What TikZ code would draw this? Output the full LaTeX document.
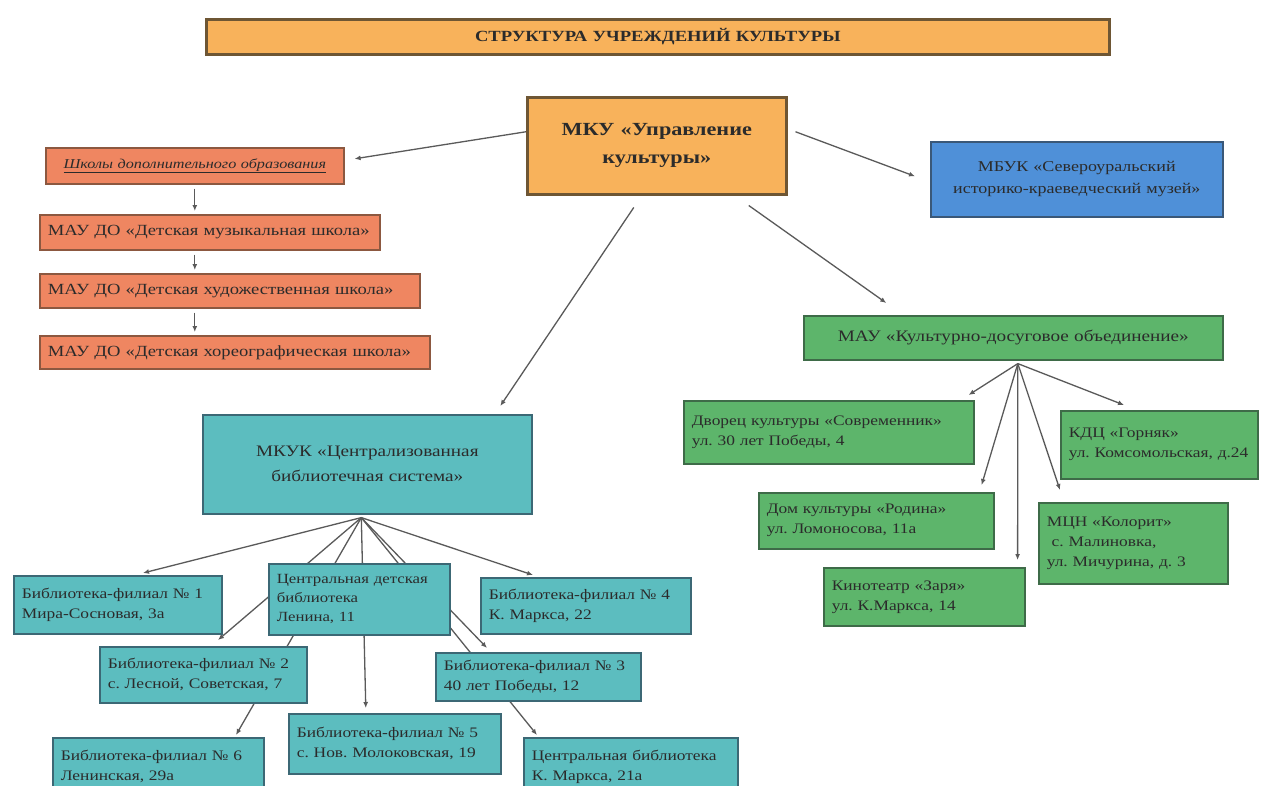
\documentclass[tikz,border=0pt]{standalone}
\usepackage{fontspec}
\setmainfont{Liberation Serif}[FakeStretch=1.2]
\usetikzlibrary{arrows.meta,backgrounds}
\definecolor{orng}{HTML}{F8B25B}
\definecolor{brn}{HTML}{6E5634}
\definecolor{salm}{HTML}{EF8661}
\definecolor{salmb}{HTML}{8C5840}
\definecolor{blu}{HTML}{4F90D8}
\definecolor{blub}{HTML}{3A5878}
\definecolor{grn}{HTML}{5DB56B}
\definecolor{grnb}{HTML}{3E6B48}
\definecolor{tea}{HTML}{5CBDBF}
\definecolor{teab}{HTML}{3C6875}
\definecolor{txt}{HTML}{2B2B2B}
\definecolor{ln}{HTML}{5A5A5A}
\frenchspacing
\begin{document}
\begin{tikzpicture}[x=1pt,y=-1pt,
  box/.style={draw, line width=1.6pt, anchor=north west, inner xsep=8pt, inner ysep=2pt, text=txt,
     font=\fontsize{14.5}{20}\selectfont},
  salbox/.style={box, fill=salm, draw=salmb, font=\fontsize{15.5}{20}\selectfont},
  grnbox/.style={box, fill=grn, draw=grnb, align=left},
  teabox/.style={box, fill=tea, draw=teab, align=left},
  arr/.style={draw=ln, line width=1.3pt, -{Latex[length=6pt,width=5pt]}}
]
\useasboundingbox (0,0) rectangle (1271,785);

% title and top
\node[box, fill=orng, draw=brn, line width=2.5pt, minimum width=903pt, minimum height=35pt, text width=887pt, align=center,
  font=\bfseries\fontsize{15.5}{18}\selectfont] (title) at (205,18) {СТРУКТУРА УЧРЕЖДЕНИЙ КУЛЬТУРЫ};
\node[box, fill=orng, draw=brn, line width=2.5pt, minimum width=259pt, minimum height=97pt, text width=243pt, align=center,
  font=\bfseries\fontsize{18.5}{28}\selectfont] (mku) at (526,96) {МКУ «Управление\\культуры»};

% schools
\node[salbox, minimum width=298pt, minimum height=36pt, text width=282pt, align=center,
  font=\itshape\fontsize{13.5}{18}\selectfont] (school) at (45,147)
  {\underline{Школы дополнительного образования}};
\node[salbox, minimum width=340pt, minimum height=35pt, text width=324pt, align=left] (music) at (39,214)
  {МАУ ДО «Детская музыкальная школа»};
\node[salbox, minimum width=380pt, minimum height=34pt, text width=364pt, align=left] (art) at (39,273)
  {МАУ ДО «Детская художественная школа»};
\node[salbox, minimum width=390pt, minimum height=33pt, text width=374pt, align=left] (chor) at (39,335)
  {МАУ ДО «Детская хореографическая школа»};

% museum
\node[box, fill=blu, draw=blub, minimum width=292pt, minimum height=75pt, text width=276pt, align=center,
  font=\fontsize{15}{22}\selectfont] (museum) at (930,141)
  {МБУК «Североуральский\\историко-краеведческий музей»};

% culture centres
\node[grnbox, minimum width=419pt, minimum height=44pt, text width=403pt, align=center,
  font=\fontsize{16}{20}\selectfont] (kdo) at (803,315)
  {МАУ «Культурно-досуговое объединение»};
\node[grnbox, minimum width=290pt, minimum height=63pt, text width=274pt] (sovr) at (683,400)
  {Дворец культуры «Современник»\\ул. 30 лет Победы, 4};
\node[grnbox, minimum width=197pt, minimum height=68pt, text width=181pt] (kdc) at (1060,410)
  {КДЦ «Горняк»\\ул. Комсомольская, д.24};
\node[grnbox, minimum width=235pt, minimum height=56pt, text width=219pt] (rodina) at (758,492)
  {Дом культуры «Родина»\\ул. Ломоносова, 11а};
\node[grnbox, minimum width=189pt, minimum height=81pt, text width=173pt] (mcn) at (1038,502)
  {МЦН «Колорит»\\\ с. Малиновка,\\ул. Мичурина, д. 3};
\node[grnbox, minimum width=201pt, minimum height=58pt, text width=185pt] (kino) at (823,567)
  {Кинотеатр «Заря»\\ул. К.Маркса, 14};

% libraries
\node[teabox, minimum width=329pt, minimum height=99pt, text width=313pt, align=center,
  font=\fontsize{16}{25}\selectfont] (cbs) at (202,414)
  {МКУК «Централизованная\\библиотечная система»};
\node[teabox, minimum width=208pt, minimum height=58pt, text width=192pt] (f1) at (13,575)
  {Библиотека-филиал № 1\\Мира-Сосновая, 3а};
\node[teabox, minimum width=181pt, minimum height=71pt, text width=165pt, font=\fontsize{14}{19}\selectfont] (cdb) at (268,563)
  {Центральная детская\\библиотека\\Ленина, 11};
\node[teabox, minimum width=210pt, minimum height=56pt, text width=194pt] (f4) at (480,577)
  {Библиотека-филиал № 4\\К. Маркса, 22};
\node[teabox, minimum width=207pt, minimum height=56pt, text width=191pt] (f2) at (99,646)
  {Библиотека-филиал № 2\\с. Лесной, Советская, 7};
\node[teabox, minimum width=205pt, minimum height=48pt, text width=189pt] (f3) at (435,652)
  {Библиотека-филиал № 3\\40 лет Победы, 12};
\node[teabox, minimum width=211pt, minimum height=58pt, text width=195pt] (f6) at (52,737)
  {Библиотека-филиал № 6\\Ленинская, 29а};
\node[teabox, minimum width=212pt, minimum height=60pt, text width=196pt] (f5) at (288,713)
  {Библиотека-филиал № 5\\с. Нов. Молоковская, 19};
\node[teabox, minimum width=214pt, minimum height=58pt, text width=198pt] (cent) at (523,737)
  {Центральная библиотека\\К. Маркса, 21а};

\coordinate (kh) at ([xshift=4.5pt,yshift=-3pt]kdo.south);
\coordinate (ch) at ([xshift=-6pt,yshift=-3pt]cbs.south);

\begin{pgfonlayer}{background}
\fill[white] (0,0) rectangle (1271,785);
% top level
\draw[arr] ([yshift=14pt]mku.west) -- ([xshift=10pt,yshift=7pt]school.east);
\draw[arr] ([xshift=8pt,yshift=14pt]mku.east) -- ([xshift=-15pt,yshift=3pt]museum.west);
\draw[arr] ([xshift=92pt,yshift=-10pt]mku.south) -- ([xshift=-127pt,yshift=12pt]kdo.north);
\draw[arr] ([xshift=-23pt,yshift=-12pt]mku.south) -- ([xshift=133pt,yshift=8pt]cbs.north);
% schools chain
\draw[arr] ([yshift=-4pt]school.south) -- ([yshift=3pt]school.south |- music.north);
\draw[arr] ([yshift=-4pt]school.south |- music.south) -- ([yshift=3pt]school.south |- art.north);
\draw[arr] ([yshift=-4pt]school.south |- art.south) -- ([yshift=3pt]school.south |- chor.north);
% culture centres
\draw[arr] (kh) -- ([xshift=-6pt,yshift=5pt]sovr.north east);
\draw[arr] (kh) -- ([xshift=-13pt,yshift=7pt]rodina.north east);
\draw[arr] (kh) -- ([xshift=-8pt,yshift=7pt]kino.north east);
\draw[arr] (kh) -- ([xshift=22pt,yshift=12pt]mcn.north west);
\draw[arr] (kh) -- ([xshift=64pt,yshift=5pt]kdc.north west);
% libraries
\draw[arr] (ch) -- ([xshift=130pt,yshift=2pt]f1.north west);
\draw[arr] (ch) -- ([xshift=53pt,yshift=2pt]f4.north west);
\draw[arr] (ch) -- ([xshift=119pt,yshift=6pt]f2.north west);
\draw[arr] (ch) -- ([xshift=52pt,yshift=4pt]f3.north west);
\draw[arr] (ch) -- ([xshift=-29pt,yshift=5pt]f5.north);
\draw[arr] (ch) -- ([xshift=184pt,yshift=2pt]f6.north west);
\draw[arr] (ch) -- ([xshift=14pt,yshift=2pt]cent.north west);
\end{pgfonlayer}
\end{tikzpicture}
\end{document}
